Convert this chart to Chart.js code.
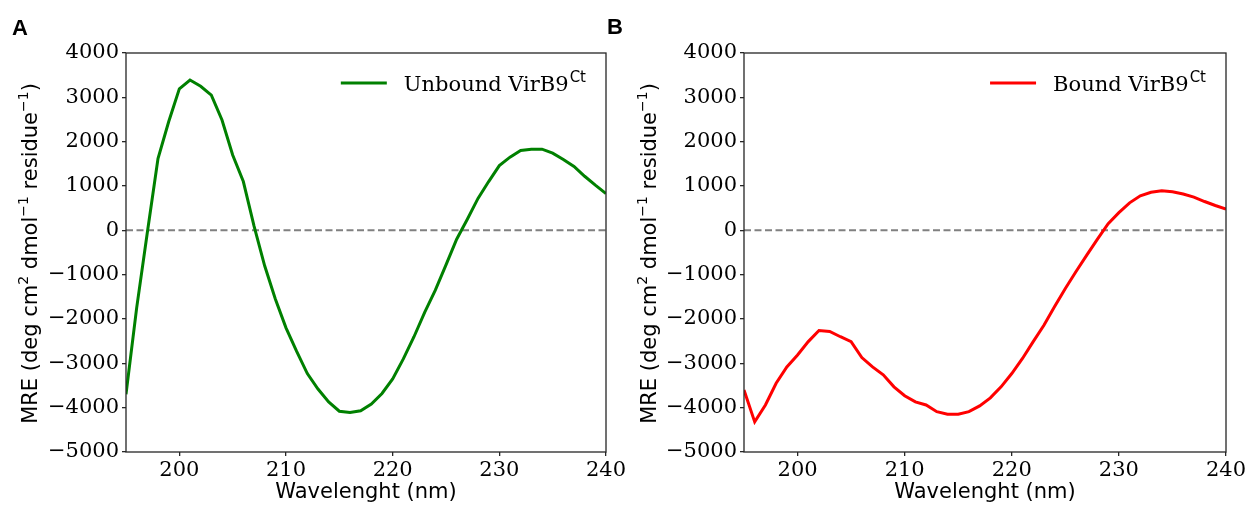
<!DOCTYPE html>
<html>
<head>
<meta charset="utf-8">
<script src="https://cdn.jsdelivr.net/npm/chart.js@4.4.1/dist/chart.umd.min.js"></script>
<style>
  html, body { margin: 0; padding: 0; background: #ffffff; }
  #wrap { position: relative; width: 1249px; height: 506px; overflow: hidden; background: #ffffff; }
  .panel { position: absolute; top: 0; }
</style>
</head>
<body>
<div id="wrap">
  <div class="panel" style="left:0px;"><canvas id="chartA" width="640" height="506"></canvas></div>
  <div class="panel" style="left:600px;"><canvas id="chartB" width="649" height="506"></canvas></div>
</div>
<script>
// ---------------- DATA ----------------
const wavelength = [195,196,197,198,199,200,201,202,203,204,205,206,207,208,209,210,211,212,213,214,215,216,217,218,219,220,221,222,223,224,225,226,227,228,229,230,231,232,233,234,235,236,237,238,239,240];
const unboundMRE = [-3700,-1750,-50,1620,2450,3190,3390,3250,3050,2490,1700,1100,100,-800,-1550,-2200,-2730,-3230,-3580,-3870,-4080,-4110,-4070,-3920,-3680,-3350,-2900,-2400,-1850,-1350,-780,-200,250,720,1100,1460,1650,1800,1830,1830,1740,1600,1440,1220,1020,830];
const boundMRE = [-3600,-4320,-3940,-3450,-3080,-2810,-2510,-2260,-2280,-2400,-2510,-2870,-3080,-3260,-3530,-3730,-3870,-3940,-4090,-4150,-4150,-4090,-3960,-3780,-3530,-3230,-2890,-2510,-2140,-1720,-1310,-930,-560,-200,150,400,620,780,860,890,870,820,750,650,560,480];
const xTickValues = [200,210,220,230,240];
const yTickValues = [-5000,-4000,-3000,-2000,-1000,0,1000,2000,3000,4000];
const xRange = [195,240];
const yRange = [-5000,4000];
const zeroLevel = [0,0];
const xTitle = 'Wavelenght (nm)';
const yTitleParts = [['MRE (deg cm',0],['2',1],[' dmol',0],['\u22121',1],[' residue',0],['\u22121',1],[')',0]];

// ---------------- STYLE ----------------
const SERIF = "'DejaVu Serif', serif";
const SANS = "'DejaVu Sans', sans-serif";
const AXIS_COLOR = '#262626';

function fmt(v) { return v < 0 ? '\u2212' + Math.abs(v) : String(v); }

const decor = {
  id: 'decor',
  afterDatasetsDraw(chart) {
    const { ctx, chartArea: a } = chart;
    ctx.save();
    ctx.strokeStyle = AXIS_COLOR;
    ctx.lineWidth = 1.3;
    ctx.strokeRect(a.left, a.top, a.right - a.left, a.bottom - a.top);
    ctx.restore();
  },
  afterDraw(chart, args, o) {
    const { ctx, chartArea: a } = chart;
    ctx.save();
    ctx.fillStyle = '#000';
    // panel letter
    ctx.font = "bold 22px 'Liberation Sans', Arial, sans-serif";
    ctx.textBaseline = 'alphabetic';
    ctx.textAlign = 'left';
    ctx.fillText(o.letter, o.letterX, o.letterY);

    // x title
    ctx.font = '21px ' + SANS;
    ctx.textAlign = 'center';
    ctx.fillText(xTitle, (a.left + a.right) / 2, 498);

    // y title (rotated, rich text), centred on the plot area
    ctx.translate(o.yTitleX, (a.top + a.bottom) / 2 + 1);
    ctx.rotate(-Math.PI / 2);
    ctx.textAlign = 'left';
    ctx.textBaseline = 'middle';
    const mainF = '21px ' + SANS, supF = '14px ' + SANS;
    let total = 0;
    yTitleParts.forEach(([t, s]) => { ctx.font = s ? supF : mainF; total += ctx.measureText(t).width; });
    let xx = -total / 2;
    yTitleParts.forEach(([t, s]) => {
      ctx.font = s ? supF : mainF;
      ctx.fillText(t, xx, s ? -8 : 0);
      xx += ctx.measureText(t).width;
    });
    ctx.setTransform(1, 0, 0, 1, 0, 0);

    // legend
    const ds = chart.data.datasets[0];
    ctx.font = '21px ' + SERIF;
    const wMain = ctx.measureText(ds.label).width;
    ctx.font = '15px ' + SANS;
    const wSup = ctx.measureText(o.sup).width;
    const right = a.right - 20;
    const textX = right - wSup - 1 - wMain;
    const y = 83;
    ctx.strokeStyle = ds.borderColor;
    ctx.lineWidth = 3;
    ctx.beginPath();
    ctx.moveTo(textX - 63, y);
    ctx.lineTo(textX - 17, y);
    ctx.stroke();
    ctx.textBaseline = 'alphabetic';
    ctx.font = '21px ' + SERIF;
    ctx.fillText(ds.label, textX, 91);
    ctx.font = '15px ' + SANS;
    ctx.fillText(o.sup, textX + wMain + 1, 82);
    ctx.restore();
  }
};

function makeChart(id, label, values, color, padLeft, padRight, yAxisWidth, opts) {
  const data = wavelength.map((w, i) => ({ x: w, y: values[i] }));
  const zero = xRange.map((w, i) => ({ x: w, y: zeroLevel[i] }));
  return new Chart(document.getElementById(id), {
    type: 'line',
    data: {
      datasets: [
        { label: label, data: data, borderColor: color, borderWidth: 3, pointRadius: 0, tension: 0, fill: false },
        { label: 'zero', data: zero, borderColor: '#808080', borderWidth: 2, borderDash: [7, 3.5], pointRadius: 0, tension: 0, fill: false }
      ]
    },
    options: {
      responsive: false,
      animation: false,
      layout: { padding: { left: padLeft, right: padRight, top: 53, bottom: 0 } },
      plugins: { legend: { display: false }, tooltip: { enabled: false }, decor: opts },
      scales: {
        x: {
          type: 'linear', min: xRange[0], max: xRange[1],
          afterBuildTicks: s => { s.ticks = xTickValues.map(v => ({ value: v })); },
          afterFit: s => { s.height = 54; },
          ticks: { font: { family: SERIF, size: 21 }, color: '#000', padding: 2, maxRotation: 0, autoSkip: false, callback: v => fmt(v) },
          grid: { drawOnChartArea: false, drawTicks: true, tickLength: 4, color: AXIS_COLOR, lineWidth: 1.3 },
          border: { display: false }
        },
        y: {
          type: 'linear', min: yRange[0], max: yRange[1],
          afterBuildTicks: s => { s.ticks = yTickValues.map(v => ({ value: v })); },
          afterFit: s => { s.width = yAxisWidth; },
          ticks: { font: { family: SERIF, size: 21 }, color: '#000', padding: 3, autoSkip: false, callback: v => fmt(v) },
          grid: { drawOnChartArea: false, drawTicks: true, tickLength: 4, color: AXIS_COLOR, lineWidth: 1.3 },
          border: { display: false }
        }
      }
    },
    plugins: [decor]
  });
}

makeChart('chartA', 'Unbound VirB9', unboundMRE, '#008000', 0, 34, 126,
  { letter: 'A', letterX: 12, letterY: 35, yTitleX: 32, sup: 'Ct' });
makeChart('chartB', 'Bound VirB9', boundMRE, '#ff0000', 18, 23, 126,
  { letter: 'B', letterX: 7, letterY: 34, yTitleX: 51, sup: 'Ct' });
</script>
</body>
</html>
